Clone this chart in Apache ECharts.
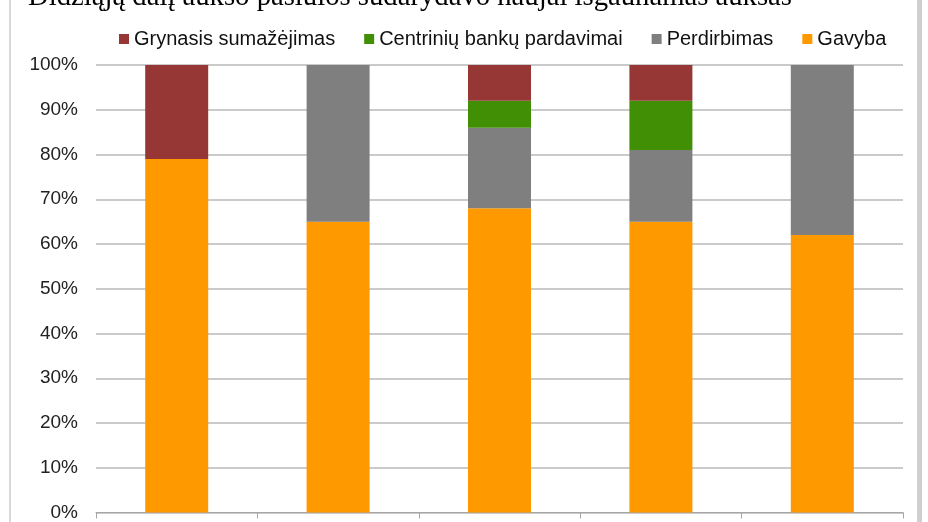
<!DOCTYPE html>
<html>
<head>
<meta charset="utf-8">
<script src="https://cdn.jsdelivr.net/npm/echarts@6/dist/echarts.min.js"></script>
<style>
html,body{margin:0;padding:0;background:#fff;}
#chart{width:928px;height:522px;}
</style>
</head>
<body>
<div id="chart"></div>
<script>
const titleText = 'Didžiąją dalį aukso pasiūlos sudarydavo naujai išgaunamas auksas';
const categories = ['1', '2', '3', '4', '5'];
const gavyba = [79, 65, 68, 65, 62];
const perdirbimas = [0, 35, 18, 16, 38];
const centriniuBanku = [0, 0, 6, 11, 0];
const grynasisSumazejimas = [21, 0, 8, 8, 0];
const yTicks = [0, 10, 20, 30, 40, 50, 60, 70, 80, 90, 100];

const chart = echarts.init(document.getElementById('chart'), null, {renderer: 'canvas'});
const font = '"Liberation Sans", Arial, sans-serif';
function bar(name, data, color) {
  return {
    name: name, type: 'bar', stack: 'total', data: data, barWidth: 63,
    itemStyle: {color: color}, emphasis: {disabled: true}
  };
}
chart.setOption({
  animation: false,
  title: {
    text: titleText, left: 23, top: -22,
    textStyle: {fontFamily: '"Liberation Serif", "Times New Roman", serif', fontSize: 28.7, fontWeight: 'normal', color: '#000'}
  },
  legend: {
    left: 114, top: 24, itemWidth: 10, itemHeight: 10, itemGap: 29,
    icon: 'rect',
    data: ['Grynasis sumažėjimas', 'Centrinių bankų pardavimai', 'Perdirbimas', 'Gavyba'],
    textStyle: {fontFamily: font, fontSize: 20, color: '#111'}
  },
  grid: {left: 96, right: 25, top: 65, bottom: 7, containLabel: false},
  xAxis: {
    type: 'category', data: categories,
    axisLine: {lineStyle: {color: '#a6a6a6', width: 1}},
    axisTick: {show: true, alignWithLabel: false, length: 6, lineStyle: {color: '#a6a6a6'}},
    axisLabel: {show: false}
  },
  yAxis: {
    type: 'value', min: yTicks[0], max: yTicks[yTicks.length - 1], interval: 10,
    axisLine: {show: false}, axisTick: {show: false},
    axisLabel: {formatter: '{value}%', fontFamily: font, fontSize: 19, color: '#222', margin: 18},
    splitLine: {lineStyle: {color: '#b8b8b8', width: 1.5}}
  },
  graphic: [
    {type: 'rect', shape: {x: 9, y: 0, width: 2, height: 522}, style: {fill: '#d9d9d9'}, silent: true},
    {type: 'rect', shape: {x: 917, y: 0, width: 5, height: 522}, style: {fill: '#cfcfcf'}, silent: true}
  ],
  series: [
    bar('Gavyba', gavyba, '#ff9900'),
    bar('Perdirbimas', perdirbimas, '#7f7f7f'),
    bar('Centrinių bankų pardavimai', centriniuBanku, '#418f05'),
    bar('Grynasis sumažėjimas', grynasisSumazejimas, '#963735')
  ]
});
</script>
</body>
</html>
